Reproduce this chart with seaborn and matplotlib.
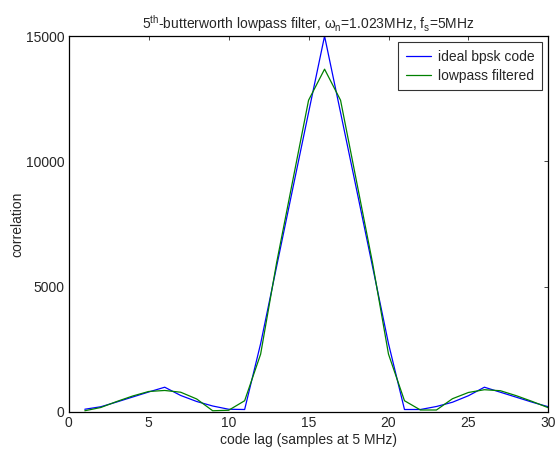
import numpy as np
import pandas as pd
import seaborn as sns
import matplotlib
matplotlib.use("Agg")
import matplotlib.pyplot as plt

# code lag samples and correlation values
lag = list(range(1, 31))
ideal = [100, 200, 390, 590, 790, 980, 650, 410, 230, 100,
         90, 2720, 5800, 8880, 11950, 15000, 11950, 8880, 5800, 2720,
         90, 90, 210, 380, 640, 980, 780, 580, 380, 200]
lowpass = [40, 170, 410, 630, 810, 850, 780, 510, 40, 60,
           440, 2300, 5950, 9200, 12440, 13680, 12440, 9200, 5950, 2300,
           440, 70, 70, 520, 770, 880, 840, 640, 410, 160]

df = pd.DataFrame({"lag": lag * 2,
                   "corr": ideal + lowpass,
                   "series": ["ideal bpsk code"] * 30 + ["lowpass filtered"] * 30})

sns.set_style("white")
plt.rcParams['font.family'] = ['Liberation Sans', 'DejaVu Sans']
plt.rcParams['mathtext.fontset'] = 'custom'
plt.rcParams['mathtext.rm'] = 'Liberation Sans'
plt.rcParams['mathtext.it'] = 'Liberation Sans'
plt.rcParams['mathtext.sf'] = 'Liberation Sans'

fig = plt.figure(figsize=(5.55, 4.57), dpi=100)
ax = fig.add_axes([0.124, 0.099, 0.864, 0.822])

sns.lineplot(data=df, x="lag", y="corr", hue="series",
             palette={"ideal bpsk code": "#0000ff", "lowpass filtered": "#008000"},
             linewidth=0.9, ax=ax)

ax.set_xlim(0, 30)
ax.set_ylim(0, 15000)
ax.set_xticks([0, 5, 10, 15, 20, 25, 30])
ax.set_yticks([0, 5000, 10000, 15000])
ax.tick_params(direction="in", length=3, width=0.6, labelsize=10, pad=3,
               top=True, right=True)
for s in ax.spines.values():
    s.set_linewidth(0.9)
    s.set_color("black")

ax.set_xlabel("code lag (samples at 5 MHz)", fontsize=10, labelpad=2)
ax.set_ylabel("correlation", fontsize=10, labelpad=1.5)
ax.set_title(r"5$^{\mathrm{th}}$-butterworth lowpass filter, $\omega_{\mathrm{n}}$=1.023MHz, f$_{\mathrm{s}}$=5MHz",
             fontsize=10, pad=5)

leg = ax.legend(loc="upper right", fontsize=10, frameon=True, fancybox=False,
                borderpad=0.55, handlelength=1.8, handletextpad=0.5,
                labelspacing=0.35, borderaxespad=0.45)
leg.get_frame().set_edgecolor("black")
leg.get_frame().set_linewidth(0.8)
leg.set_title(None)

fig.savefig("out.png", dpi=100)
